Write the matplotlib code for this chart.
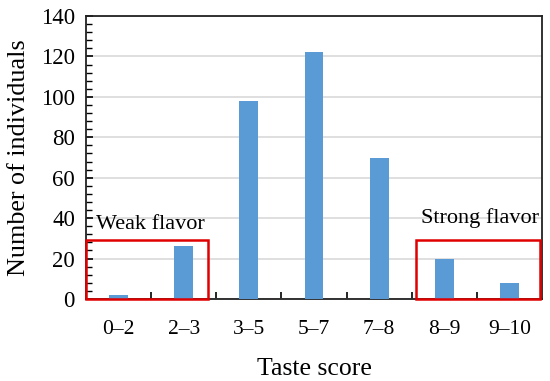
import matplotlib.pyplot as plt
from matplotlib.patches import Rectangle
from matplotlib.ticker import MultipleLocator, FixedLocator

plt.rcParams['font.family'] = ['Liberation Serif', 'DejaVu Serif']

categories = ['0\u20132', '2\u20133', '3\u20135', '5\u20137', '7\u20138', '8\u20139', '9\u201310']
counts = [2, 26, 98, 122, 70, 20, 8]

fig = plt.figure(figsize=(5.5, 3.81), dpi=100)
ax = fig.add_axes([86 / 550, 1 - 299 / 381, 456 / 550, 283 / 381])

x = list(range(len(categories)))
ax.bar(x, counts, width=0.29, color='#5B9BD5', zorder=3)

ax.set_xlim(-0.5, len(categories) - 0.5)
ax.set_ylim(0, 140)
ax.yaxis.set_major_locator(MultipleLocator(20))
ax.yaxis.set_minor_locator(MultipleLocator(4))
ax.grid(axis='y', color='#D9D9D9', linewidth=1.2, zorder=0)

ax.set_xticks(x)
ax.set_xticklabels(categories)
ax.xaxis.set_minor_locator(FixedLocator([i + 0.5 for i in range(len(categories) - 1)]))
ax.tick_params(axis='x', which='major', length=0, pad=15, labelsize=15.5)
ax.tick_params(axis='x', which='minor', direction='in', length=5, width=1.2)
ax.tick_params(axis='y', which='major', direction='in', length=5, width=1.2, labelsize=16.5, pad=8)
ax.tick_params(axis='y', which='minor', direction='in', length=4, width=1.0)

for side in ['left', 'bottom', 'top', 'right']:
    ax.spines[side].set_linewidth(1.3)
    ax.spines[side].set_color('#222222')

ax.set_xlabel('Taste score', fontsize=18.5, labelpad=14)
ax.set_ylabel('Number of individuals', fontsize=18.8, labelpad=8)

# highlight boxes
ax.add_patch(Rectangle((-0.5, 0), 1.87, 29.2, fill=False, edgecolor='#E00000',
                       linewidth=1.8, zorder=4, clip_on=False))
ax.add_patch(Rectangle((4.56, 0), 1.91, 29.2, fill=False, edgecolor='#E00000',
                       linewidth=1.8, zorder=4, clip_on=False))
ax.text(-0.35, 37, 'Weak flavor', fontsize=16, va='center', ha='left')
ax.text(6.45, 40, 'Strong flavor', fontsize=16, va='center', ha='right')

fig.savefig('out.png', dpi=100)
